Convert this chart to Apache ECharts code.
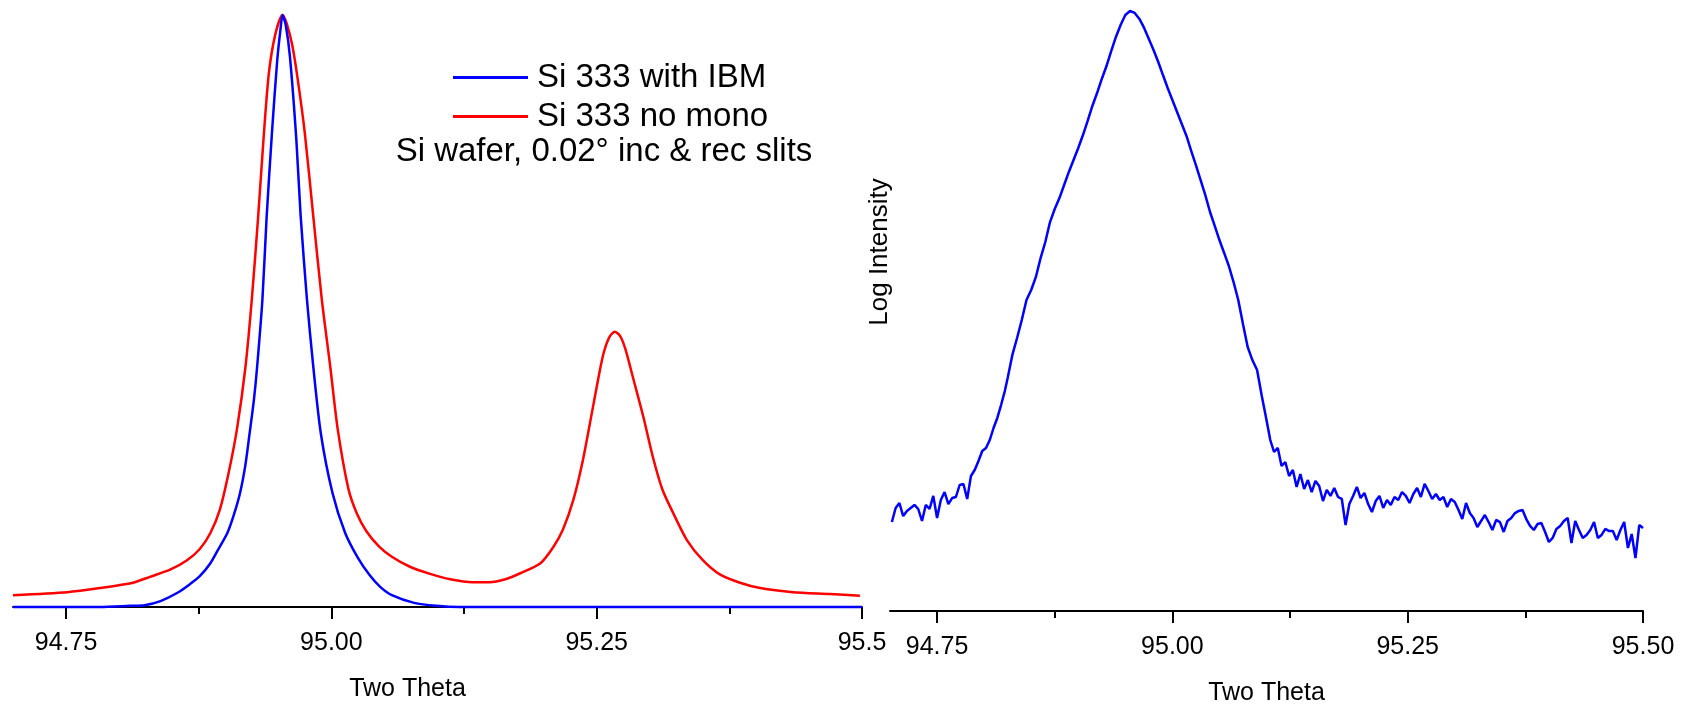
<!DOCTYPE html>
<html>
<head>
<meta charset="utf-8">
<title>Si 333</title>
<script src="https://cdn.jsdelivr.net/npm/echarts@6/dist/echarts.min.js"></script>
<style>
  html, body { margin: 0; padding: 0; background: #fff; }
  #chart { width: 1682px; height: 707px; }
</style>
</head>
<body>
<div id="chart"></div>
<script>
const FONT = '"Liberation Sans", Arial, sans-serif';

const majorTicks = [94.75, 95.0, 95.25, 95.5];
const minorTicks = [94.875, 95.125, 95.375];
const leftTickLabels = ['94.75', '95.00', '95.25', '95.5'];
const rightTickLabels = ['94.75', '95.00', '95.25', '95.50'];

const seriesNames = ['Si 333 with IBM', 'Si 333 no mono'];
const noteText = 'Si wafer, 0.02\u00b0 inc & rec slits';

// normalised intensity, left panel
const ibmData = [
  [94.700, 0], [94.782, 0], [94.810, 0.002], [94.824, 0.003], [94.839, 0.010],
  [94.855, 0.024], [94.867, 0.039], [94.876, 0.052], [94.886, 0.074], [94.893, 0.096],
  [94.902, 0.125], [94.908, 0.155], [94.914, 0.193], [94.919, 0.240], [94.923, 0.294],
  [94.927, 0.350], [94.930, 0.405], [94.935, 0.519], [94.939, 0.659], [94.944, 0.801],
  [94.949, 0.924], [94.952, 0.975], [94.954, 1.0], [94.957, 0.983], [94.961, 0.929],
  [94.967, 0.789], [94.971, 0.662], [94.977, 0.519], [94.983, 0.405], [94.990, 0.294],
  [95.001, 0.193], [95.013, 0.125], [95.025, 0.083], [95.036, 0.054], [95.046, 0.034],
  [95.057, 0.020], [95.078, 0.007], [95.099, 0.002], [95.121, 0], [95.500, 0]
];

const noMonoData = [
  [94.700, 0.020], [94.751, 0.025], [94.782, 0.032], [94.813, 0.041], [94.829, 0.051],
  [94.848, 0.063], [94.864, 0.079], [94.876, 0.098], [94.886, 0.125], [94.895, 0.165],
  [94.903, 0.225], [94.911, 0.300], [94.919, 0.405], [94.925, 0.519], [94.931, 0.659],
  [94.936, 0.789], [94.941, 0.900], [94.947, 0.966], [94.954, 1.0], [94.958, 0.985],
  [94.963, 0.950], [94.968, 0.895], [94.975, 0.800], [94.983, 0.659], [94.991, 0.519],
  [94.999, 0.405], [95.006, 0.300], [95.016, 0.200], [95.024, 0.158], [95.033, 0.128],
  [95.045, 0.102], [95.057, 0.085], [95.074, 0.068], [95.093, 0.056], [95.112, 0.047],
  [95.133, 0.042], [95.149, 0.042], [95.164, 0.047], [95.178, 0.057], [95.197, 0.074],
  [95.209, 0.101], [95.218, 0.130], [95.228, 0.181], [95.237, 0.248], [95.246, 0.333],
  [95.253, 0.400], [95.257, 0.432], [95.262, 0.456], [95.267, 0.465], [95.272, 0.458],
  [95.277, 0.436], [95.284, 0.389], [95.294, 0.321], [95.303, 0.253], [95.312, 0.198],
  [95.322, 0.159], [95.335, 0.113], [95.350, 0.079], [95.366, 0.055], [95.385, 0.041],
  [95.404, 0.032], [95.435, 0.025], [95.470, 0.022], [95.498, 0.019]
];

// log intensity, right panel
const logData = [
  [94.702, 1.593], [94.706, 1.687], [94.710, 1.720], [94.714, 1.633], [94.718, 1.667],
  [94.722, 1.687], [94.726, 1.707], [94.730, 1.680], [94.734, 1.600], [94.738, 1.707],
  [94.742, 1.680], [94.746, 1.767], [94.750, 1.620], [94.754, 1.740], [94.758, 1.793],
  [94.762, 1.713], [94.766, 1.753], [94.770, 1.760], [94.774, 1.840], [94.778, 1.847],
  [94.782, 1.747], [94.786, 1.900], [94.790, 1.940], [94.794, 2.000], [94.798, 2.067],
  [94.802, 2.087], [94.806, 2.140], [94.810, 2.220], [94.814, 2.287], [94.818, 2.373],
  [94.822, 2.467],
  [94.825, 2.553], [94.830, 2.707], [94.835, 2.820], [94.840, 2.940], [94.845, 3.073],
  [94.850, 3.140], [94.855, 3.227], [94.860, 3.353], [94.865, 3.460], [94.870, 3.593],
  [94.875, 3.680], [94.880, 3.753], [94.885, 3.840], [94.890, 3.927], [94.895, 4.007],
  [94.900, 4.087], [94.905, 4.173], [94.910, 4.267], [94.915, 4.367], [94.920, 4.453],
  [94.925, 4.547], [94.930, 4.633], [94.935, 4.733], [94.940, 4.827], [94.945, 4.907],
  [94.950, 4.973], [94.955, 5.000], [94.960, 4.987], [94.965, 4.947], [94.970, 4.887],
  [94.975, 4.813], [94.980, 4.740], [94.985, 4.660], [94.990, 4.573], [94.995, 4.487],
  [95.000, 4.407], [95.005, 4.327], [95.010, 4.247], [95.015, 4.167], [95.020, 4.067],
  [95.025, 3.973], [95.030, 3.873], [95.035, 3.773], [95.040, 3.660], [95.045, 3.567],
  [95.050, 3.473], [95.055, 3.387], [95.060, 3.300], [95.065, 3.193], [95.070, 3.073],
  [95.075, 2.913], [95.080, 2.760], [95.085, 2.673], [95.090, 2.607], [95.095, 2.433],
  [95.100, 2.273],
  [95.104, 2.140], [95.108, 2.060], [95.112, 2.087], [95.116, 1.967], [95.120, 1.993],
  [95.124, 1.900], [95.128, 1.940], [95.132, 1.827], [95.136, 1.913], [95.140, 1.813],
  [95.144, 1.873], [95.148, 1.793], [95.152, 1.867], [95.156, 1.833], [95.160, 1.733],
  [95.164, 1.807], [95.168, 1.767], [95.172, 1.820], [95.176, 1.760], [95.180, 1.747],
  [95.184, 1.573], [95.188, 1.713], [95.192, 1.767], [95.196, 1.827], [95.200, 1.753],
  [95.204, 1.787], [95.208, 1.713], [95.212, 1.660], [95.216, 1.733], [95.220, 1.767],
  [95.224, 1.687], [95.228, 1.740], [95.232, 1.707], [95.236, 1.760], [95.240, 1.740],
  [95.244, 1.793], [95.248, 1.767], [95.252, 1.720], [95.256, 1.780], [95.260, 1.820],
  [95.264, 1.760], [95.268, 1.847], [95.272, 1.800], [95.276, 1.747], [95.280, 1.780],
  [95.284, 1.740], [95.288, 1.760], [95.292, 1.693], [95.296, 1.747], [95.300, 1.727],
  [95.304, 1.673], [95.308, 1.613], [95.312, 1.720], [95.316, 1.653], [95.320, 1.620],
  [95.324, 1.560], [95.328, 1.600], [95.332, 1.640], [95.336, 1.593], [95.340, 1.540],
  [95.344, 1.607], [95.348, 1.593], [95.352, 1.527], [95.356, 1.600], [95.360, 1.620],
  [95.364, 1.653], [95.368, 1.667], [95.372, 1.673], [95.376, 1.613], [95.380, 1.567],
  [95.384, 1.540], [95.388, 1.580], [95.392, 1.587], [95.396, 1.527], [95.400, 1.460],
  [95.404, 1.487], [95.408, 1.547], [95.412, 1.567], [95.416, 1.600], [95.420, 1.620],
  [95.424, 1.453], [95.428, 1.600], [95.432, 1.540], [95.436, 1.487], [95.440, 1.507],
  [95.444, 1.540], [95.448, 1.593], [95.452, 1.487], [95.456, 1.507], [95.460, 1.547],
  [95.464, 1.533], [95.468, 1.533], [95.472, 1.473], [95.476, 1.540], [95.480, 1.593],
  [95.484, 1.420], [95.488, 1.513], [95.492, 1.353], [95.496, 1.573], [95.500, 1.553]
];

function tickLabel(labels) {
  return function (v) {
    const i = majorTicks.findIndex(t => Math.abs(t - v) < 1e-6);
    return i < 0 ? '' : labels[i];
  };
}

function mainAxis(gridIndex, labels, namePad) {
  return {
    type: 'value', gridIndex, position: 'bottom', min: 94.7, max: 95.5,
    name: 'Two Theta', nameLocation: 'middle', nameGap: 70,
    nameTextStyle: { fontFamily: FONT, fontSize: 25, color: '#000', padding: namePad },
    axisLine: { show: true, onZero: false, lineStyle: { color: '#000', width: 2 } },
    axisTick: { show: true, customValues: majorTicks, length: 12, lineStyle: { color: '#000', width: 2 } },
    axisLabel: {
      show: true, customValues: majorTicks, margin: 24, formatter: tickLabel(labels),
      fontFamily: FONT, fontSize: 25, color: '#000'
    },
    splitLine: { show: false }
  };
}

function minorAxis(gridIndex) {
  return {
    type: 'value', gridIndex, position: 'bottom', min: 94.7, max: 95.5,
    axisLine: { show: false, onZero: false },
    axisTick: { show: true, customValues: minorTicks, length: 7, lineStyle: { color: '#000', width: 2 } },
    axisLabel: { show: false },
    splitLine: { show: false }
  };
}

const chart = echarts.init(document.getElementById('chart'), null, { renderer: 'canvas' });

chart.setOption({
  animation: false,
  backgroundColor: '#fff',
  grid: [
    { left: 13, right: 820, top: 15, bottom: 100, containLabel: false, outerBoundsMode: 'none' },
    { left: 890, right: 39, top: 11, bottom: 96, containLabel: false, outerBoundsMode: 'none' }
  ],
  xAxis: [mainAxis(0, leftTickLabels, [0, 60, 0, 0]), mainAxis(1, rightTickLabels, 0), minorAxis(0), minorAxis(1)],
  yAxis: [
    { type: 'value', gridIndex: 0, min: 0, max: 1, show: false },
    { type: 'value', gridIndex: 1, min: 1, max: 5, show: false }
  ],
  legend: {
    orient: 'vertical', left: 448, top: 56,
    icon: 'rect', itemWidth: 75, itemHeight: 3, itemGap: 6,
    selectedMode: false,
    data: seriesNames,
    textStyle: { fontFamily: FONT, fontSize: 33, lineHeight: 33, color: '#000', padding: [0, 0, 0, 4] }
  },
  graphic: [
    {
      type: 'text', x: 604, y: 152,
      style: { text: noteText, font: '33px ' + FONT, fill: '#000', align: 'center', verticalAlign: 'middle' }
    },
    {
      type: 'text', x: 880, y: 252, rotation: Math.PI / 2,
      style: { text: 'Log Intensity', font: '26px ' + FONT, fill: '#000', align: 'center', verticalAlign: 'middle' }
    }
  ],
  series: [
    {
      name: seriesNames[1], type: 'line', xAxisIndex: 0, yAxisIndex: 0,
      data: noMonoData, showSymbol: false, clip: false, smooth: 0.25,
      lineStyle: { color: '#ff0000', width: 2.5 }, itemStyle: { color: '#ff0000' }
    },
    {
      name: seriesNames[0], type: 'line', xAxisIndex: 0, yAxisIndex: 0,
      data: ibmData, showSymbol: false, clip: false, smooth: 0.25,
      lineStyle: { color: '#0000ff', width: 2.5 }, itemStyle: { color: '#0000ff' }
    },
    {
      name: 'log', type: 'line', xAxisIndex: 1, yAxisIndex: 1,
      data: logData, showSymbol: false, clip: false,
      lineStyle: { color: '#0000ff', width: 2.5 }, itemStyle: { color: '#0000ff' }
    }
  ]
});

window.addEventListener('resize', () => chart.resize());
</script>
</body>
</html>
